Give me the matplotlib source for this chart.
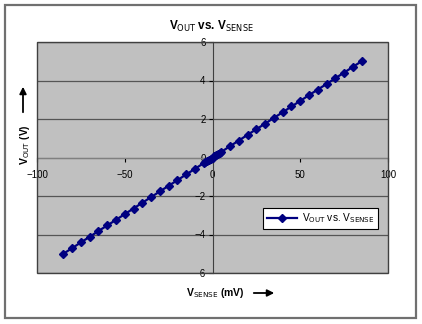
import matplotlib.pyplot as plt
from matplotlib.patches import Rectangle

plt.rcParams['font.family'] = ['Liberation Sans', 'DejaVu Sans']

# V_SENSE (mV) and V_OUT (V)
vsense = [-85, -80, -75, -70, -65, -60, -55, -50, -45, -40, -35, -30, -25, -20,
          -15, -10, -5, -4, -3, -2, -1, 0, 1, 2, 3, 4, 5, 10, 15, 20, 25, 30,
          35, 40, 45, 50, 55, 60, 65, 70, 75, 80, 85]
vout = [-5.0, -4.71, -4.41, -4.12, -3.82, -3.53, -3.24, -2.94, -2.65, -2.35,
        -2.06, -1.76, -1.47, -1.18, -0.88, -0.59, -0.29, -0.24, -0.18, -0.12,
        -0.06, 0.0, 0.06, 0.12, 0.18, 0.24, 0.29, 0.59, 0.88, 1.18, 1.47, 1.76,
        2.06, 2.35, 2.65, 2.94, 3.24, 3.53, 3.82, 4.12, 4.41, 4.71, 5.0]
xticks = [-100, -50, 0, 50, 100]
yticks = [-6, -4, -2, 0, 2, 4, 6]

fig = plt.figure(figsize=(4.22, 3.24), dpi=100)
fig.patches.append(Rectangle((5 / 422, 6 / 324), 411 / 422, 313 / 324,
                             transform=fig.transFigure, fill=False,
                             edgecolor='#707070', linewidth=1.6))

ax = fig.add_axes([37 / 422, 1 - 273 / 324, 351 / 422, 231 / 324])
ax.set_facecolor('#c0c0c0')
ax.set_xlim(-100, 100)
ax.set_ylim(-6, 6)

for y in yticks:
    ax.axhline(y, color='#555555', linewidth=0.9, zorder=1)

ax.plot(vsense, vout, color='#000080', marker='D', markersize=4,
        linewidth=1.6, zorder=3, label=r'V$_{\mathsf{OUT}}$ vs. V$_{\mathsf{SENSE}}$')

ax.spines['left'].set_position(('data', 0))
ax.spines['bottom'].set_position(('data', 0))
ax.spines['left'].set_color('#404040')
ax.spines['bottom'].set_color('#808080')
for s in ['top', 'right']:
    ax.spines[s].set_visible(False)
ax.add_patch(Rectangle((0, 0), 1, 1, transform=ax.transAxes, fill=False,
                       edgecolor='#404040', linewidth=1.0, zorder=4,
                       clip_on=False))

ax.set_xticks(xticks)
ax.set_yticks(yticks)
ax.tick_params(axis='both', labelsize=7, length=3, width=0.8,
               direction='out', colors='black', pad=2)
ax.tick_params(axis='x', pad=6)

fig.text(0.5, 1 - 26 / 324, r'V$_{\mathsf{OUT}}$ vs. V$_{\mathsf{SENSE}}$',
         ha='center', va='center', fontsize=8.5, fontweight='bold')
fig.text(215 / 422, 1 - 293 / 324, r'V$_{\mathsf{SENSE}}$ (mV)',
         ha='center', va='center', fontsize=7.5, fontweight='bold')
fig.text(25 / 422, 1 - 145 / 324, r'V$_{\mathsf{OUT}}$ (V)',
         ha='center', va='center', fontsize=7.5, fontweight='bold', rotation=90)
fig.add_artist(plt.Annotation('', xy=(277 / 422, 1 - 293 / 324),
                              xytext=(251 / 422, 1 - 293 / 324),
                              xycoords='figure fraction',
                              arrowprops=dict(arrowstyle='-|>', color='black',
                                              lw=1.3, mutation_scale=10)))
fig.add_artist(plt.Annotation('', xy=(23 / 422, 1 - 84 / 324),
                              xytext=(23 / 422, 1 - 115 / 324),
                              xycoords='figure fraction',
                              arrowprops=dict(arrowstyle='-|>', color='black',
                                              lw=1.3, mutation_scale=10)))

leg = ax.legend(loc='upper left', bbox_to_anchor=((263 - 37) / 351, 1 - (208 - 42) / 231),
                fontsize=7.3, frameon=True, fancybox=False, handlelength=3.0,
                borderpad=0.35, handletextpad=0.5, borderaxespad=0)
leg.get_frame().set_edgecolor('black')
leg.get_frame().set_linewidth(0.8)
leg.get_frame().set_facecolor('white')
leg.get_frame().set_alpha(1)

fig.savefig('out.png', dpi=100)
